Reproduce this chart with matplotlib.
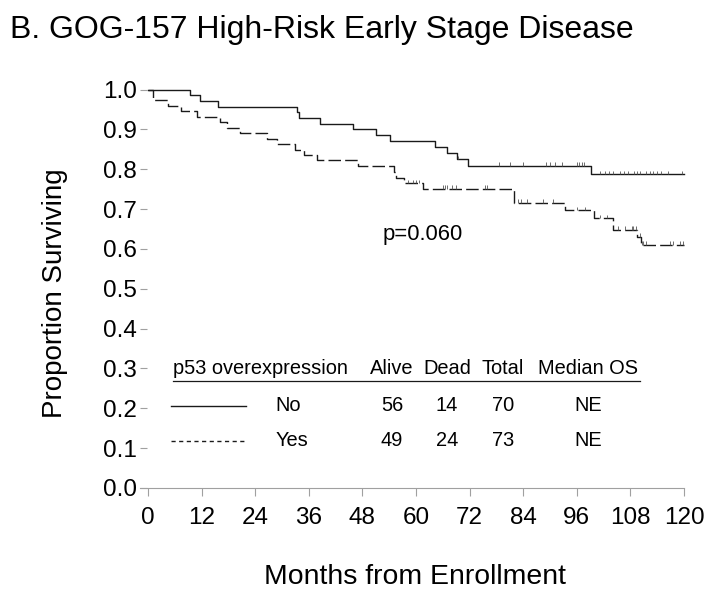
#!/usr/bin/env python
# -*- coding: utf-8 -*-

"""
GOG-157 고위험 초기 병기 - p53 과발현 여부별 전체 생존 (Kaplan-Meier)
"""

import numpy as np
import matplotlib
matplotlib.use('Agg')
import matplotlib.pyplot as plt

# 데이터 - 그림에서 읽은 사건 시점(개월)과 생존 비율
no_times = [0, 9.3, 11.6, 15.6, 33.3, 33.9, 38.4, 45.8, 51.0, 54.2,
            64.3, 66.9, 69.1, 71.7, 99.1, 120]
no_surv = [1.0, 0.986, 0.971, 0.957, 0.943, 0.929, 0.914, 0.900, 0.886, 0.871,
           0.856, 0.841, 0.825, 0.809, 0.787, 0.787]
no_censor = [69.5, 78.6, 81.0, 84.0, 89.1, 90.0, 91.1, 92.6, 96.0, 96.6, 97.1,
             97.5, 101.2, 102.3, 103.3, 104.2, 105.7, 106.6, 107.5, 108.7,
             109.4, 110.1, 111.6, 112.4, 113.1, 114.0, 114.8, 116.5, 119.5]

yes_times = [0, 1.2, 4.4, 7.4, 11.0, 16.1, 17.6, 20.6, 26.6, 28.8, 32.9,
             34.9, 37.8, 46.9, 55.0, 55.6, 57.2, 61.6, 81.9, 93.4, 99.9,
             104.2, 109.4, 110.3, 120]
yes_surv = [1.0, 0.973, 0.959, 0.945, 0.932, 0.918, 0.904, 0.890, 0.877,
            0.863, 0.849, 0.836, 0.822, 0.808, 0.794, 0.779, 0.765, 0.751,
            0.715, 0.697, 0.677, 0.648, 0.630, 0.610, 0.610]
yes_censor = [58.3, 59.4, 60.1, 60.7, 66.1, 66.5, 66.9, 68.0, 68.9, 75.4,
              75.8, 82.9, 83.6, 84.8, 88.5, 90.7, 96.0, 97.8, 101.2, 102.7,
              105.3, 106.8, 108.3, 108.6, 109.2, 110.1, 110.5, 110.9, 111.6,
              116.9, 117.6, 119.1, 119.8]

x_ticks = [0, 12, 24, 36, 48, 60, 72, 84, 96, 108, 120]
y_ticks = [0.0, 0.1, 0.2, 0.3, 0.4, 0.5, 0.6, 0.7, 0.8, 0.9, 1.0]

# 범례 표
table_header = ['Alive', 'Dead', 'Total', 'Median OS']
table_rows = [('No', ['56', '14', '70', 'NE']),
              ('Yes', ['49', '24', '73', 'NE'])]
p_value_text = 'p=0.060'

plt.rcParams['font.family'] = ['Liberation Sans', 'DejaVu Sans']

LINE_COLOR = '#1a1a1a'
AXIS_COLOR = '#a0a0a0'
TABLE_FS = 14.4


def level_at(times, surv, t):
    """계단 함수에서 시점 t의 생존 비율"""
    idx = np.searchsorted(times, t, side='right') - 1
    return np.asarray(surv)[idx]


def draw_curve(ax, times, surv, censor, dashes):
    line, = ax.plot(times, surv, drawstyle='steps-post', color=LINE_COLOR,
                    lw=1.0, clip_on=False)
    if dashes:
        line.set_dashes(dashes)
    lv = level_at(times, surv, censor)
    ax.vlines(censor, lv, lv + 0.009, color='#555555', lw=0.6)


def main():
    fig = plt.figure(figsize=(7.15, 5.99), dpi=100)
    ax = fig.add_axes([140 / 715, 111 / 599, 544 / 715, 398.5 / 599])

    draw_curve(ax, no_times, no_surv, no_censor, None)
    draw_curve(ax, yes_times, yes_surv, yes_censor, (9, 3))

    ax.set_xlim(-1.8, 120)
    ax.set_ylim(0, 1.0)
    for side in ['top', 'right', 'left']:
        ax.spines[side].set_visible(False)
    ax.spines['bottom'].set_color(AXIS_COLOR)
    ax.spines['bottom'].set_linewidth(0.8)

    ax.set_xticks(x_ticks)
    ax.set_yticks(y_ticks)
    ax.set_yticklabels([f'{v:.1f}' for v in y_ticks])
    ax.tick_params(axis='x', direction='out', length=6, width=0.8,
                   color=AXIS_COLOR, pad=8, labelsize=17.5)
    ax.tick_params(axis='y', direction='in', length=5, width=0.8,
                   color=AXIS_COLOR, pad=2, labelsize=17.5)

    # p 값
    ax.text(52.6, 0.635, p_value_text, fontsize=15.8, va='center', ha='left')

    # 범례 표 머리글 (밑줄 포함)
    hdr_y = 0.30
    ax.text(5.5, hdr_y, 'p53 overexpression', fontsize=TABLE_FS, va='center')
    col_x = [54.6, 66.9, 79.4, 98.5]
    for cx, label in zip(col_x, table_header):
        ax.text(cx, hdr_y, label, fontsize=TABLE_FS, va='center', ha='center')
    ax.plot([5.5, 110.2], [0.268, 0.268], color=LINE_COLOR, lw=0.9)

    row_y = [0.207, 0.118]
    sample_dash = [None, (3, 2.5)]
    for (name, vals), ry, dash in zip(table_rows, row_y, sample_dash):
        sample, = ax.plot([5.1, 22.0], [ry, ry], color=LINE_COLOR, lw=1.0)
        if dash:
            sample.set_dashes(dash)
        ax.text(28.5, ry, name, fontsize=TABLE_FS, va='center', ha='left')
        for cx, v in zip(col_x, vals):
            ax.text(cx, ry, v, fontsize=TABLE_FS, va='center', ha='center')

    fig.text(10 / 715, 1 - 30 / 599, 'B. GOG-157 High-Risk Early Stage Disease',
             fontsize=23, va='center', ha='left')
    fig.text(55 / 715, 1 - 293 / 599, 'Proportion Surviving', fontsize=20,
             rotation=90, va='center', ha='center')
    fig.text(415 / 715, 1 - 577 / 599, 'Months from Enrollment', fontsize=20.4,
             va='center', ha='center')

    fig.savefig('out.png', dpi=100)
    plt.close(fig)


if __name__ == "__main__":
    main()
